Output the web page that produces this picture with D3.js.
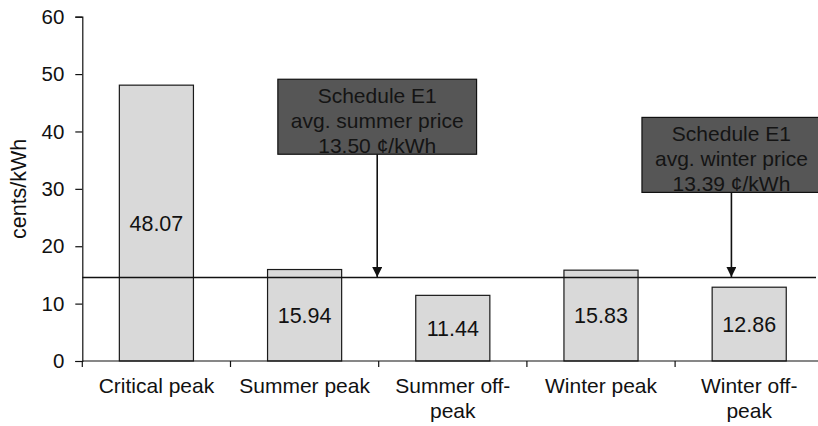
<!DOCTYPE html>
<html><head><meta charset="utf-8">
<script src="https://cdn.jsdelivr.net/npm/d3@7"></script>
<style>
html,body{margin:0;padding:0;background:#fff;}
svg{display:block;font-family:"Liberation Sans",Arial,Helvetica,sans-serif;}
</style></head>
<body>
<svg id="chart" width="818" height="426"></svg>
<script>
const categories = ["Critical peak", "Summer peak", "Summer off-\npeak", "Winter peak", "Winter off-\npeak"];
const values = [48.07, 15.94, 11.44, 15.83, 12.86];
const yTicks = [0, 10, 20, 30, 40, 50, 60];
const yLabel = "cents/kWh";
const refLineValue = 14.55;
const annotationLines = [
  ["Schedule E1", "avg. summer price", "13.50 \u00A2/kWh"],
  ["Schedule E1", "avg. winter price", "13.39 \u00A2/kWh"]
];
const annotationAnchor = ["Summer peak", "Winter peak"]; // category the arrow sits after
const annotationOffset = [0.49, 0.88];                  // arrow offset, in category steps
const annotationTop = [49.1, 42.45];                     // box top, in cents/kWh

const svg = d3.select("#chart");
const x0 = 82.3, x1 = 823.3, yTop = 16.7, yBot = 361;
const x = d3.scaleBand().domain(categories).range([x0, x1]).paddingInner(0.5).paddingOuter(0.25);
const y = d3.scaleLinear().domain([0, 60]).range([yBot, yTop]);
const step = x.step();

// bars
svg.append("g").selectAll("rect").data(values).join("rect")
  .attr("x", (d, i) => x(categories[i]))
  .attr("y", d => y(d))
  .attr("width", x.bandwidth())
  .attr("height", d => y(0) - y(d))
  .attr("fill", "#d9d9d9").attr("stroke", "#1a1a1a").attr("stroke-width", 1.2);

// value labels
svg.append("g").selectAll("text").data(values).join("text")
  .attr("x", (d, i) => x(categories[i]) + x.bandwidth() / 2)
  .attr("y", d => y(d / 2))
  .attr("dy", "0.36em")
  .attr("text-anchor", "middle")
  .attr("font-size", 21.5).attr("fill", "#111")
  .text(d => d.toFixed(2));

// y axis
const yAxis = svg.append("g").attr("transform", `translate(${x0},0)`)
  .call(d3.axisLeft(y).tickValues(yTicks).tickSize(7).tickPadding(11).tickFormat(d3.format("d")));
yAxis.select(".domain").attr("stroke", "#111").attr("stroke-width", 1.2);
yAxis.selectAll(".tick line").attr("stroke", "#111").attr("stroke-width", 1.2);
yAxis.selectAll(".tick text").attr("font-size", 20.5).attr("fill", "#111").attr("font-family", "Liberation Sans, Arial, sans-serif");

// x axis line
svg.append("line").attr("x1", x0).attr("x2", 818).attr("y1", y(0)).attr("y2", y(0))
  .attr("stroke", "#111").attr("stroke-width", 1.2);
// boundary ticks
svg.append("g").selectAll("line").data(categories).join("line")
  .attr("x1", d => x(d) - step * 0.25).attr("x2", d => x(d) - step * 0.25)
  .attr("y1", y(0)).attr("y2", y(0) + 6)
  .attr("stroke", "#111").attr("stroke-width", 1.2);

// category labels
const catG = svg.append("g");
categories.forEach(c => {
  const t = catG.append("text")
    .attr("x", x(c) + x.bandwidth() / 2)
    .attr("y", 393)
    .attr("text-anchor", "middle")
    .attr("font-size", 21).attr("fill", "#111");
  c.split("\n").forEach((ln, j) => {
    t.append("tspan").attr("x", x(c) + x.bandwidth() / 2).attr("dy", j === 0 ? 0 : 24.5).text(ln);
  });
});

// y label
svg.append("text")
  .attr("transform", `translate(26,${y(30)}) rotate(-90)`)
  .attr("text-anchor", "middle")
  .attr("font-size", 21.5).attr("fill", "#111")
  .text(yLabel);

// reference line
svg.append("line").attr("x1", x0).attr("x2", 816).attr("y1", y(refLineValue)).attr("y2", y(refLineValue))
  .attr("stroke", "#111").attr("stroke-width", 1.6);

// annotations
const defs = svg.append("defs");
defs.append("marker").attr("id", "arr").attr("viewBox", "0 0 10 10")
  .attr("refX", 10).attr("refY", 5).attr("markerWidth", 10).attr("markerHeight", 10)
  .attr("markerUnits", "userSpaceOnUse").attr("orient", "auto")
  .append("path").attr("d", "M0,0 L10,5 L0,10 Z").attr("fill", "#111");

annotationLines.forEach((lines, k) => {
  const cx = x(annotationAnchor[k]) + x.bandwidth() / 2 + annotationOffset[k] * step;
  const t = svg.append("text").attr("text-anchor", "middle").attr("font-size", 21).attr("fill", "#141414");
  const boxTop = y(annotationTop[k]), boxH = 75;
  lines.forEach((ln, j) => {
    t.append("tspan").attr("x", cx).attr("y", boxTop + 23.5 + j * 25).text(ln);
  });
  const w = t.node().getBBox().width + 26;
  svg.insert("rect", () => t.node()).attr("x", cx - w / 2).attr("y", boxTop).attr("width", w).attr("height", boxH)
    .attr("fill", "#565656").attr("stroke", "#111").attr("stroke-width", 1.2);
  svg.append("line").attr("x1", cx).attr("x2", cx).attr("y1", boxTop + boxH).attr("y2", y(refLineValue) - 0.5)
    .attr("stroke", "#111").attr("stroke-width", 1.6).attr("marker-end", "url(#arr)");
});
</script>
</body></html>
